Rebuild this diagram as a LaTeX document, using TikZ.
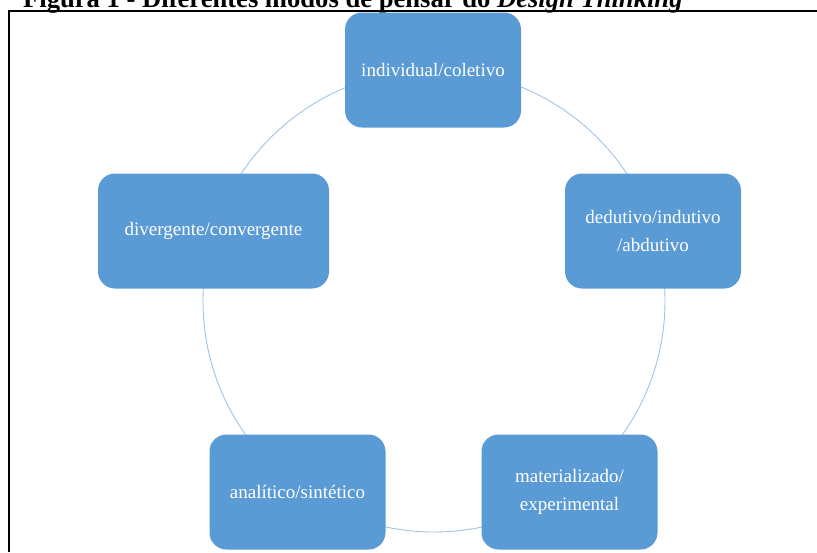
\documentclass[tikz,border=0pt]{standalone}
\usepackage{fontspec}
\setmainfont{Liberation Serif}
\definecolor{boxblue}{RGB}{91,155,213}
\definecolor{ringblue}{RGB}{160,196,232}
\tikzset{modo/.style={fill=boxblue, rounded corners=17pt, text=white, align=center,
    minimum width=176pt, minimum height=115pt, font=\fontsize{19}{28}\selectfont}}

\begin{document}
\begin{tikzpicture}[x=1pt,y=-1pt]
  \useasboundingbox (0,0) rectangle (817,552);
  \node[anchor=base west, inner sep=0pt, font=\fontsize{26.6}{30}\selectfont\bfseries] (titulo) at (23,7)
    {Figura 1 - Diferentes modos de pensar do \textit{Design Thinking}};
  \draw[line width=2pt] (9,552) -- (9,11) -- (817,11);
  \coordinate (c) at (434,301);
  \draw[ringblue, line width=0.9pt] (c) circle (231);
  \node[modo] (ind) at (433,70) {individual/coletivo};
  \node[modo] (ded) at (653,231) {dedutivo/indutivo\\/abdutivo};
  \node[modo] (mat) at (569.5,492) {materializado/\\experimental};
  \node[modo] (ana) at (297.5,492) {analítico/sintético};
  \node[modo, minimum width=231pt] (div) at (213.5,231) {divergente/convergente};
\end{tikzpicture}
\end{document}
